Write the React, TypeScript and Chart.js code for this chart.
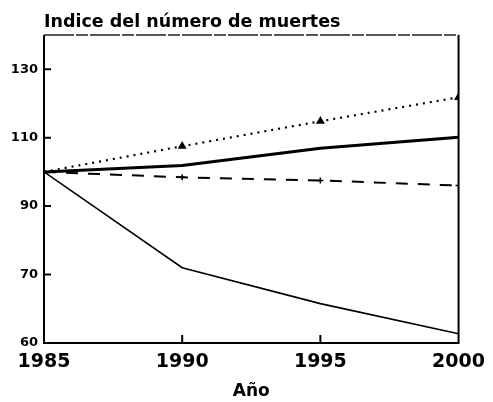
import React, { useEffect, useRef } from "react";
import { Chart, registerables } from "chart.js";

Chart.register(...registerables);

const chartTitle = "Indice del número de muertes";
const xAxisTitle = "Año";
const years = [1985, 1990, 1995, 2000];
const xTickValues = [1985, 1990, 1995, 2000];
const yTickValues = [50, 70, 90, 110, 130];
const yTickLabels = ["60", "70", "90", "110", "130"];
const thinSeries = [100, 72, 61.5, 52.7];
const thickSeries = [100, 101.9, 106.9, 110.1];
const dottedSeries = [100, 107.5, 114.8, 121.8];
const dashedSeries = [100, 98.4, 97.5, 96];

const FONT = "'DejaVu Sans', 'Liberation Sans', Arial, sans-serif";

const framePlugin = {
  id: "frame",
  afterDraw(chart: any) {
    const { ctx, chartArea } = chart;
    const { left, right, top, bottom } = chartArea;
    const xs = chart.scales.x;
    const ys = chart.scales.y;
    ctx.save();
    ctx.setLineDash([]);
    ctx.strokeStyle = "#000";
    ctx.lineWidth = 2;
    ctx.beginPath();
    ctx.moveTo(left, top);
    ctx.lineTo(left, bottom);
    ctx.lineTo(right, bottom);
    ctx.lineTo(right, top);
    ctx.stroke();
    ctx.strokeStyle = "#222";
    ctx.lineWidth = 1.4;
    ctx.setLineDash([30, 2, 12, 2]);
    ctx.beginPath();
    ctx.moveTo(left, top);
    ctx.lineTo(right, top);
    ctx.stroke();
    ctx.setLineDash([]);
    ctx.lineWidth = 2;
    ctx.strokeStyle = "#000";
    ctx.beginPath();
    yTickValues.forEach((v, i) => {
      if (i === 0) return;
      const py = ys.getPixelForValue(v);
      ctx.moveTo(left, py);
      ctx.lineTo(left + 7, py);
    });
    xTickValues.forEach((v, i) => {
      if (i === 0 || i === xTickValues.length - 1) return;
      const px = xs.getPixelForValue(v);
      ctx.moveTo(px, bottom);
      ctx.lineTo(px, bottom - 8);
    });
    ctx.stroke();
    ctx.restore();
  },
};

const toPoints = (arr: number[]) => arr.map((v, i) => ({ x: years[i], y: v }));

export default function App() {
  const ref = useRef<HTMLCanvasElement>(null);
  useEffect(() => {
    if (!ref.current) return;
    const chart = new Chart(ref.current, {
      type: "line",
      data: {
        datasets: [
          {
            data: toPoints(thinSeries),
            borderColor: "#000",
            borderWidth: 1.6,
            pointRadius: 0,
            tension: 0,
          },
          {
            data: toPoints(thickSeries),
            borderColor: "#000",
            borderWidth: 3,
            pointRadius: 0,
            tension: 0,
          },
          {
            data: toPoints(dottedSeries),
            borderColor: "#000",
            borderWidth: 2.2,
            borderDash: [2, 5],
            pointRadius: [0, 3, 3, 3],
            pointStyle: "triangle",
            pointBackgroundColor: "#000",
            pointBorderColor: "#000",
            tension: 0,
          },
          {
            data: toPoints(dashedSeries),
            borderColor: "#000",
            borderWidth: 2,
            borderDash: [12, 10],
            pointRadius: [0, 3, 3, 3],
            pointStyle: "cross",
            pointBorderColor: "#000",
            pointBorderWidth: 1.5,
            tension: 0,
          },
        ],
      },
      options: {
        animation: false,
        responsive: false,
        events: [],
        layout: { padding: { left: 0, right: 33, top: 0, bottom: 0 } },
        plugins: {
          legend: { display: false },
          tooltip: { enabled: false },
          title: {
            display: true,
            text: chartTitle,
            align: "start",
            fullSize: false,
            color: "#000",
            font: { family: FONT, size: 17.5, weight: "bold" },
            padding: { top: 12, bottom: 2 },
          },
        },
        scales: {
          x: {
            type: "linear",
            min: 1985,
            max: 2000,
            border: { display: false },
            grid: { display: false, drawTicks: false },
            afterBuildTicks: (s: any) => {
              s.ticks = xTickValues.map((v) => ({ value: v }));
            },
            afterFit: (s: any) => {
              s.height = 59;
            },
            ticks: {
              color: "#000",
              padding: 8,
              maxRotation: 0,
              font: { family: FONT, size: 19, weight: "bold" },
              callback: (v: any) => String(v),
            },
            title: {
              display: true,
              text: xAxisTitle,
              color: "#000",
              font: { family: FONT, size: 17, weight: "bold" },
              padding: { top: 0, bottom: 0 },
            },
          },
          y: {
            type: "linear",
            min: 50,
            max: 140,
            border: { display: false },
            grid: { display: false, drawTicks: false },
            afterBuildTicks: (s: any) => {
              s.ticks = yTickValues.map((v) => ({ value: v }));
            },
            afterFit: (s: any) => {
              s.width = 44;
            },
            ticks: {
              color: "#000",
              padding: 6,
              font: { family: FONT, size: 13, weight: "bold" },
              callback: (v: any) => {
                const i = yTickValues.indexOf(Number(v));
                return i >= 0 ? yTickLabels[i] : "";
              },
            },
          },
        },
      },
      plugins: [framePlugin],
    } as any);
    return () => chart.destroy();
  }, []);
  return (
    <div style={{ position: "fixed", left: 0, top: 0, width: 493, height: 402, background: "#fff" }}>
      <canvas ref={ref} width={493} height={402} style={{ display: "block" }} />
    </div>
  );
}
